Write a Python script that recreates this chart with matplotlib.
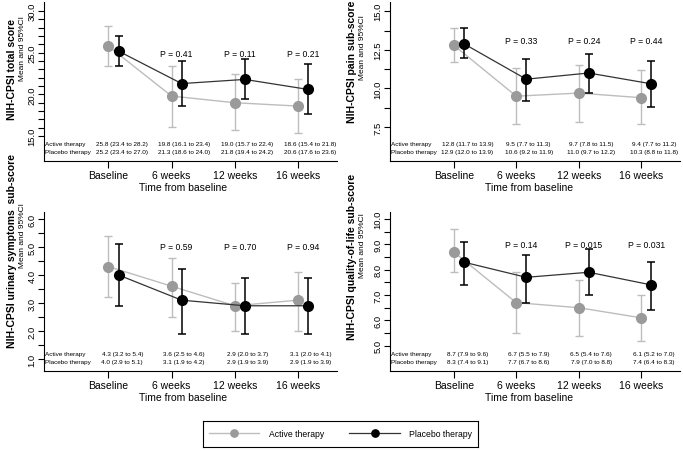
import matplotlib
matplotlib.use('Agg')
import matplotlib.pyplot as plt
import numpy as np

plt.rcParams['font.family'] = ['Liberation Sans', 'DejaVu Sans']

categories = ['Baseline', '6 weeks', '12 weeks', '16 weeks']
series_names = ['Active therapy', 'Placebo therapy']

# Total score
total_active_mean = [25.8, 19.8, 19.0, 18.6]
total_active_lo = [23.4, 16.1, 15.7, 15.4]
total_active_hi = [28.2, 23.4, 22.4, 21.8]
total_placebo_mean = [25.2, 21.3, 21.8, 20.6]
total_placebo_lo = [23.4, 18.6, 19.4, 17.6]
total_placebo_hi = [27.0, 24.0, 24.2, 23.6]
total_p = ['0.41', '0.11', '0.21']

# Pain sub-score
pain_active_mean = [12.8, 9.5, 9.7, 9.4]
pain_active_lo = [11.7, 7.7, 7.8, 7.7]
pain_active_hi = [13.9, 11.3, 11.5, 11.2]
pain_placebo_mean = [12.9, 10.6, 11.0, 10.3]
pain_placebo_lo = [12.0, 9.2, 9.7, 8.8]
pain_placebo_hi = [13.9, 11.9, 12.2, 11.8]
pain_p = ['0.33', '0.24', '0.44']

# Urinary symptoms sub-score
urin_active_mean = [4.3, 3.6, 2.9, 3.1]
urin_active_lo = [3.2, 2.5, 2.0, 2.0]
urin_active_hi = [5.4, 4.6, 3.7, 4.1]
urin_placebo_mean = [4.0, 3.1, 2.9, 2.9]
urin_placebo_lo = [2.9, 1.9, 1.9, 1.9]
urin_placebo_hi = [5.1, 4.2, 3.9, 3.9]
urin_p = ['0.59', '0.70', '0.94']

# Quality-of-life sub-score
qol_active_mean = [8.7, 6.7, 6.5, 6.1]
qol_active_lo = [7.9, 5.5, 5.4, 5.2]
qol_active_hi = [9.6, 7.9, 7.6, 7.0]
qol_placebo_mean = [8.3, 7.7, 7.9, 7.4]
qol_placebo_lo = [7.4, 6.7, 7.0, 6.4]
qol_placebo_hi = [9.1, 8.6, 8.8, 8.3]
qol_p = ['0.14', '0.015', '0.031']

titles = ['NIH-CPSI total score', 'NIH-CPSI pain sub-score',
          'NIH-CPSI urinary symptoms  sub-score', 'NIH-CPSI quality-of-life sub-score']
yticks_major = [[15.0, 20.0, 25.0, 30.0], [7.5, 10.0, 12.5, 15.0],
                [1.0, 2.0, 3.0, 4.0, 5.0, 6.0], [5.0, 6.0, 7.0, 8.0, 9.0, 10.0]]

panels = [
    dict(a=(total_active_mean, total_active_lo, total_active_hi),
         p=(total_placebo_mean, total_placebo_lo, total_placebo_hi), pv=total_p),
    dict(a=(pain_active_mean, pain_active_lo, pain_active_hi),
         p=(pain_placebo_mean, pain_placebo_lo, pain_placebo_hi), pv=pain_p),
    dict(a=(urin_active_mean, urin_active_lo, urin_active_hi),
         p=(urin_placebo_mean, urin_placebo_lo, urin_placebo_hi), pv=urin_p),
    dict(a=(qol_active_mean, qol_active_lo, qol_active_hi),
         p=(qol_placebo_mean, qol_placebo_lo, qol_placebo_hi), pv=qol_p),
]

# layout (pixels)
W, H = 683, 452
boxes = [(44, 3, 337, 162), (390, 3, 680, 162), (44, 213, 337, 372), (390, 213, 680, 372)]
ylims = [(12.0, 31.1), (5.3, 15.6), (0.57, 6.25), (4.0, 10.28)]
minor_step = [1.0, 1.25, 0.5, 0.5]
p_y = [24.9, 13.1, 5.0, 9.0]
# y-label centers (px): bold (x, y), normal (x, y)
lab_pos = [((12, 70), (22, 49)), ((352, 62), (362, 48)),
           ((12, 251), (22, 236)), ((352, 257), (362, 246))]

GRAY_M = '#9a9a9a'
GRAY_L = '#bdbdbd'
BLACK = '#000000'

fig = plt.figure(figsize=(W / 100, H / 100), dpi=100)

x = np.arange(1, len(categories) + 1)
off = 0.16
handles = None

for i, pan in enumerate(panels):
    l, t, r, b = boxes[i]
    ax = fig.add_axes([l / W, 1 - b / H, (r - l) / W, (b - t) / H])
    am, alo, ahi = [np.array(v) for v in pan['a']]
    pm, plo, phi = [np.array(v) for v in pan['p']]

    ax.errorbar(x, am, yerr=[am - alo, ahi - am], fmt='none', ecolor=GRAY_L,
                elinewidth=1.0, capsize=3.2, capthick=1.0, zorder=2)
    la, = ax.plot(x, am, color=GRAY_L, lw=1.0, marker='o', ms=7,
                  mfc=GRAY_M, mec=GRAY_M, zorder=3)
    ax.errorbar(x + off, pm, yerr=[pm - plo, phi - pm], fmt='none', ecolor=BLACK,
                elinewidth=1.1, capsize=3.2, capthick=1.1, zorder=4)
    lp, = ax.plot(x + off, pm, color='#333333', lw=0.9, marker='o', ms=7,
                  mfc=BLACK, mec=BLACK, zorder=5)
    if handles is None:
        handles = [la, lp]

    ax.set_xlim(-0.02, 4.62)
    ax.set_ylim(*ylims[i])
    ax.spines['top'].set_visible(False)
    ax.spines['right'].set_visible(False)
    for s in ['left', 'bottom']:
        ax.spines[s].set_linewidth(0.8)
    ax.set_xticks(x)
    ax.set_xticklabels(categories, fontsize=7.5)
    ax.tick_params(axis='x', length=5, width=0.8, pad=1.5)
    yt = yticks_major[i]
    ax.set_yticks(yt)
    ax.set_yticklabels(['%.1f' % v for v in yt], fontsize=6.8, rotation=90, va='center')
    ax.set_yticks(np.arange(yt[0], yt[-1] + 1e-6, minor_step[i]), minor=True)
    ax.tick_params(axis='y', which='both', length=4, width=0.8, pad=1.5)

    # P values
    for k, pv in enumerate(pan['pv']):
        ax.text(x[k + 1] + 0.08, p_y[i], 'P = ' + pv, ha='center', va='center', fontsize=6.2)

    # table
    ax.text(0.004, 0.107, series_names[0], transform=ax.transAxes, ha='left',
            va='center', fontsize=4.6)
    ax.text(0.004, 0.057, series_names[1], transform=ax.transAxes, ha='left',
            va='center', fontsize=4.6)
    for k in range(len(categories)):
        tr = ax.get_xaxis_transform()
        dx = 0.22 if k == 0 else 0.2
        ax.text(x[k] + dx, 0.107, '%.1f (%.1f to %.1f)' % (am[k], alo[k], ahi[k]),
                transform=tr, ha='center', va='center', fontsize=4.6)
        ax.text(x[k] + dx, 0.057, '%.1f (%.1f to %.1f)' % (pm[k], plo[k], phi[k]),
                transform=tr, ha='center', va='center', fontsize=4.6)

    # x label
    xl = (183 + (l - 44) - l) / (r - l)
    ax.text(xl, -26 / (b - t), 'Time from baseline', transform=ax.transAxes,
            ha='center', va='center', fontsize=7.5)

    (bx, by), (nx, ny) = lab_pos[i]
    fig.text(bx / W, 1 - by / H, titles[i], rotation=90, ha='center', va='center',
             fontsize=7.5, fontweight='bold')
    fig.text(nx / W, 1 - ny / H, 'Mean and 95%CI', rotation=90, ha='center', va='center',
             fontsize=6.0)

# legend box
ll, lt, lr, lb = 203, 422, 478, 448
lax = fig.add_axes([ll / W, 1 - lb / H, (lr - ll) / W, (lb - lt) / H])
lax.set_xticks([])
lax.set_yticks([])
for s in lax.spines.values():
    s.set_linewidth(0.8)
lax.legend(handles, series_names, loc='center', ncol=2, frameon=False, fontsize=6.2,
           handlelength=5.9, handletextpad=1.1, columnspacing=2.9, markerscale=0.75)

fig.savefig('out.png', dpi=100)
